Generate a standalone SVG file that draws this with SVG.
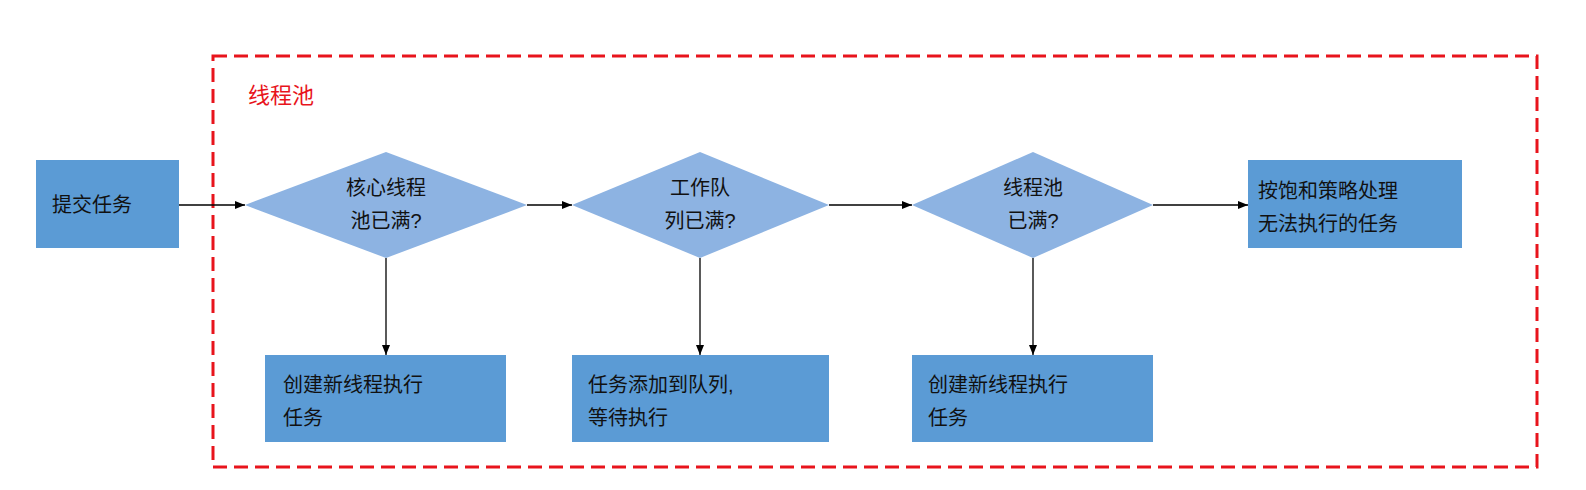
<svg xmlns="http://www.w3.org/2000/svg" width="1586" height="490" viewBox="0 0 1586 490">
<defs>
<marker id="ar" markerWidth="10" markerHeight="8" refX="10" refY="4" orient="auto" markerUnits="userSpaceOnUse"><path d="M0,0 L10,4 L0,8 z" fill="#000"/></marker>
<style>
.box{fill:#5b9bd5}
.dia{fill:#8db3e2}
text{font-family:"Liberation Sans","Noto Sans CJK SC",sans-serif;font-size:20px;fill:#111}
.c{stroke:#000;stroke-width:1.3;fill:none;marker-end:url(#ar)}
</style>
</defs>
<rect width="1586" height="490" fill="#fff"/>
<rect id="pool" x="213" y="56" width="1324" height="411" fill="none" stroke="#e8141c" stroke-width="3" stroke-dasharray="14,7"/>
<text x="248" y="103" style="fill:#e8141c;font-size:22px">线程池</text>
<g id="submit"><rect class="box" x="36" y="160" width="143" height="88"/><text x="52" y="212">提交任务</text></g>
<g id="d1"><polygon class="dia" points="245,205 386,152 527,205 386,258"/><text x="386" y="195" text-anchor="middle">核心线程</text><text x="386" y="228" text-anchor="middle">池已满?</text></g>
<g id="d2"><polygon class="dia" points="572,205 700,152 829,205 700,258"/><text x="700" y="195" text-anchor="middle">工作队</text><text x="700" y="228" text-anchor="middle">列已满?</text></g>
<g id="d3"><polygon class="dia" points="912,205 1033,152 1153,205 1033,258"/><text x="1033" y="195" text-anchor="middle">线程池</text><text x="1033" y="228" text-anchor="middle">已满?</text></g>
<g id="reject"><rect class="box" x="1248" y="160" width="214" height="88"/><text x="1258" y="198">按饱和策略处理</text><text x="1258" y="231">无法执行的任务</text></g>
<g id="b1"><rect class="box" x="265" y="355" width="241" height="87"/><text x="283" y="392">创建新线程执行</text><text x="283" y="425">任务</text></g>
<g id="b2"><rect class="box" x="572" y="355" width="257" height="87"/><text x="588" y="392">任务添加到队列,</text><text x="588" y="425">等待执行</text></g>
<g id="b3"><rect class="box" x="912" y="355" width="241" height="87"/><text x="928" y="392">创建新线程执行</text><text x="928" y="425">任务</text></g>
<g id="connectors">
<line class="c" x1="179" y1="205" x2="245" y2="205"/>
<line class="c" x1="527" y1="205" x2="572" y2="205"/>
<line class="c" x1="829" y1="205" x2="912" y2="205"/>
<line class="c" x1="1153" y1="205" x2="1248" y2="205"/>
<line class="c" x1="386" y1="258" x2="386" y2="355"/>
<line class="c" x1="700" y1="258" x2="700" y2="355"/>
<line class="c" x1="1033" y1="258" x2="1033" y2="355"/>
</g>
</svg>
